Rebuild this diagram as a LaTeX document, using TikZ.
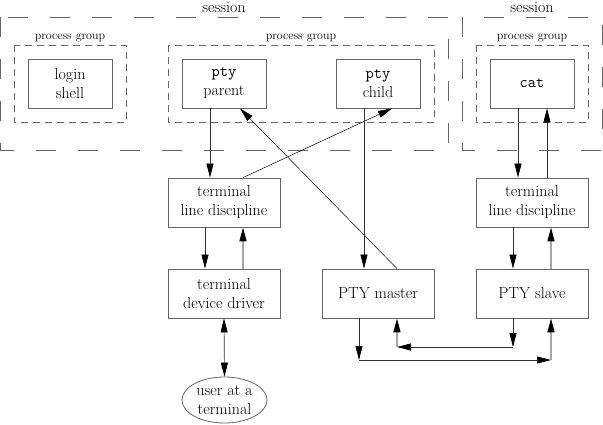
\documentclass[tikz,border=0pt]{standalone}
\usetikzlibrary{arrows.meta,shapes.geometric}
\begin{document}
\begin{tikzpicture}[x=1pt,y=-1pt,
  txt/.style={font=\fontsize{16}{19}\selectfont},
  box/.style={draw=black!60, line width=0.8pt, minimum width=84pt, minimum height=49pt,
    align=center, inner sep=0pt, txt},
  wbox/.style={box, minimum width=112pt},
  sess/.style={draw=black!60, line width=0.8pt, dash pattern=on 20pt off 22pt},
  pg/.style={draw=black!60, line width=0.8pt, dash pattern=on 7pt off 5pt},
  head/.tip={Triangle[length=14pt,width=7pt,color=black,fill=black]},
  conn/.style={draw=black!80, line width=0.7pt, -head},
  both/.style={draw=black!80, line width=0.7pt, head-head},
  diag/.style={draw=black, line width=0.5pt, -head},
  ret/.style={draw=black!35, line width=1.5pt, -head},
  lbl/.style={font=\fontsize{12}{14}\selectfont, anchor=base},
  slbl/.style={txt, anchor=base}]
\useasboundingbox (0,0) rectangle (603,424);
% sessions
\draw[sess] (0.5,17) rectangle (448,150);
\draw[sess] (462,17) rectangle (602,150);
\node[slbl] (s1) at (224,12.5) {session};
\node[slbl] (s2) at (532,12.5) {session};
% process groups
\draw[pg] (14,45) rectangle (126,122);
\draw[pg] (168,45) rectangle (434,122);
\draw[pg] (476,45) rectangle (588,122);
\node[lbl] (g1) at (70,39) {process group};
\node[lbl] (g2) at (301,39) {process group};
\node[lbl] (g3) at (532,39) {process group};
% boxes
\node[box] (login) at (70,83.5) {login\\shell};
\node[box] (parent) at (224,83.5) {\texttt{pty}\\parent};
\node[box] (child) at (378,83.5) {\texttt{pty}\\child};
\node[box] (cat) at (532,83.5) {\texttt{cat}};
\node[wbox] (ld1) at (224,202.5) {terminal\\line discipline};
\node[wbox] (ld2) at (532,202.5) {terminal\\line discipline};
\node[wbox] (dd) at (224,293.5) {terminal\\device driver};
\node[wbox] (master) at (378,293.5) {PTY master};
\node[wbox] (slave) at (532,293.5) {PTY slave};
\node[ellipse, draw=black!60, line width=0.8pt, minimum width=85pt, minimum height=46pt,
  inner sep=0pt, align=center, txt] (user) at (224.5,400) {user at a\\terminal};
% connectors
\draw[conn] ([xshift=-14pt]parent.south) -- ([xshift=-14pt]ld1.north);
\draw[diag] ([xshift=19pt]ld1.north) -- ([xshift=14pt]child.south);
\draw[diag] ([xshift=19pt]master.north) -- ([xshift=16pt]parent.south);
\draw[conn] ([xshift=-14pt]child.south) -- ([xshift=-14pt]master.north);
\draw[conn] ([xshift=-14pt]cat.south) -- ([xshift=-14pt]ld2.north);
\draw[conn] ([xshift=15pt]ld2.north) -- ([xshift=15pt]cat.south);
\draw[conn] ([xshift=-19pt]ld1.south) -- ([xshift=-19pt]dd.north);
\draw[ret] ([xshift=19pt]dd.north) -- ([xshift=19pt]ld1.south);
\draw[conn] ([xshift=-19pt]ld2.south) -- ([xshift=-19pt]slave.north);
\draw[ret] ([xshift=19pt]slave.north) -- ([xshift=19pt]ld2.south);
\draw[both] (dd.south) -- (user.north);
% bottom loops
\coordinate (a1) at (359,360);
\coordinate (a2) at (551,360);
\coordinate (b1) at (513,347);
\coordinate (b2) at (397,347);
\draw[conn] ([xshift=-19pt]master.south) -- (a1);
\draw[conn] (a1) -- (a2);
\draw[ret] (a2) -- ([xshift=19pt]slave.south);
\draw[conn] ([xshift=-19pt]slave.south) -- (b1);
\draw[conn] (b1) -- (b2);
\draw[ret] (b2) -- ([xshift=19pt]master.south);
\end{tikzpicture}
\end{document}
